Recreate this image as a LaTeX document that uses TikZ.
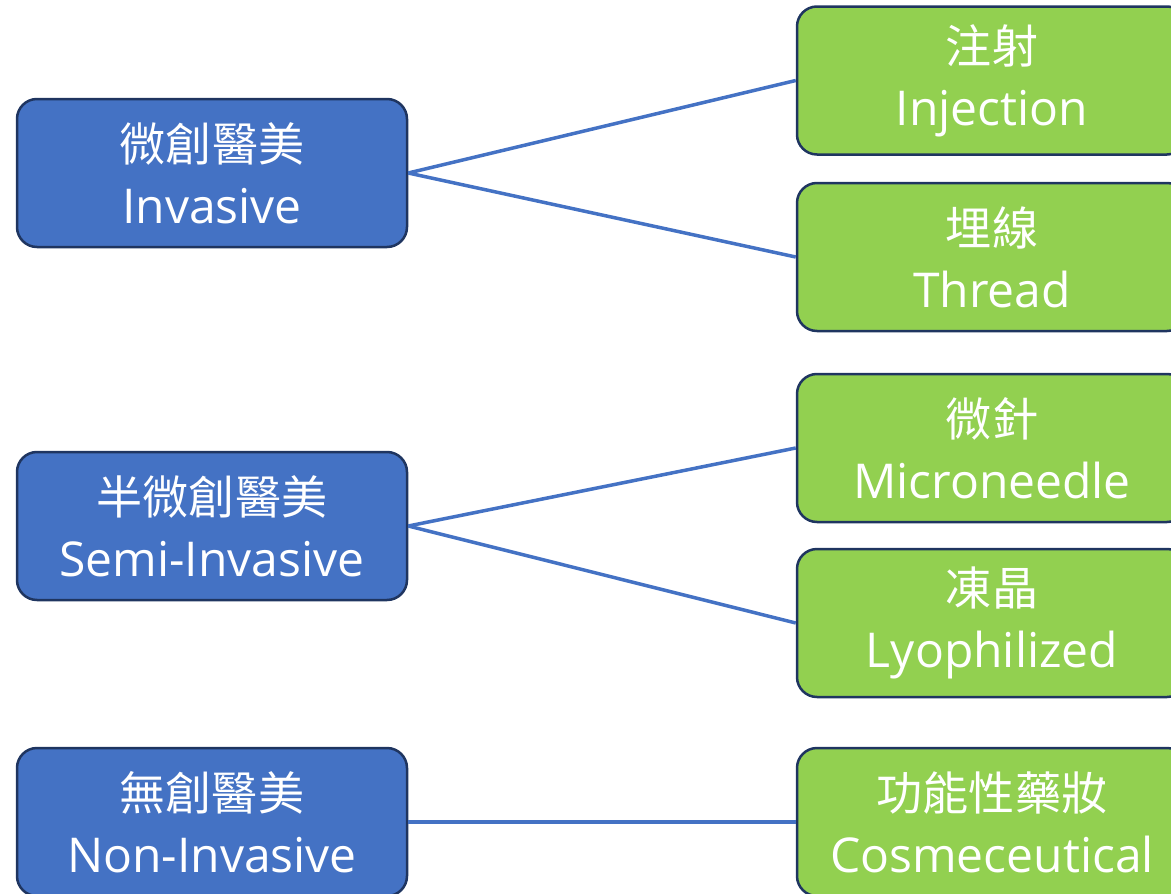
\documentclass[tikz,border=0pt]{standalone}
\usepackage{fontspec}
\setmainfont{Open Sans}
\newfontfamily\cjk[Scale=0.96]{Noto Sans CJK TC}
\usepackage{tikz}
\definecolor{catblue}{HTML}{4472C4}
\definecolor{itemgreen}{HTML}{92D050}
\definecolor{edgenavy}{HTML}{1F3560}
\tikzset{
    catbox/.style={draw=edgenavy, line width=2.5pt, fill=catblue, text=white,
        rounded corners=20pt, minimum width=390pt, minimum height=148pt,
        inner sep=0pt, align=center, font=\fontsize{48}{62}\selectfont},
    itembox/.style={catbox, fill=itemgreen},
    link/.style={draw=catblue, line width=3.5pt}
}

\begin{document}
\begin{tikzpicture}[x=1pt,y=-1pt]
    \clip (0,0) rectangle (1171,894);
    \useasboundingbox (0,0) rectangle (1171,894);

    % left column
    \node [catbox] (inv)  at (212,173) {{\cjk 微創醫美}\\Invasive};
    \node [catbox] (semi) at (212,526) {{\cjk 半微創醫美}\\Semi-Invasive};
    \node [catbox] (non)  at (212,822) {{\cjk 無創醫美}\\Non-Invasive};

    % right column
    \node [itembox] (inj)   at (992,80.5) {{\cjk 注射}\\Injection};
    \node [itembox] (thr)   at (992,257)  {{\cjk 埋線}\\Thread};
    \node [itembox] (micro) at (992,448)  {{\cjk 微針}\\Microneedle};
    \node [itembox] (lyo)   at (992,623)  {{\cjk 凍晶}\\Lyophilized};
    \node [itembox] (cosm)  at (992,822)  {{\cjk 功能性藥妝}\\Cosmeceutical};

    \draw [link] (inv.east) -- (inj.west);
    \draw [link] (inv.east) -- (thr.west);
    \draw [link] (semi.east) -- (micro.west);
    \draw [link] (semi.east) -- (lyo.west);
    \draw [link] (non.east) -- (cosm.west);
\end{tikzpicture}
\end{document}
